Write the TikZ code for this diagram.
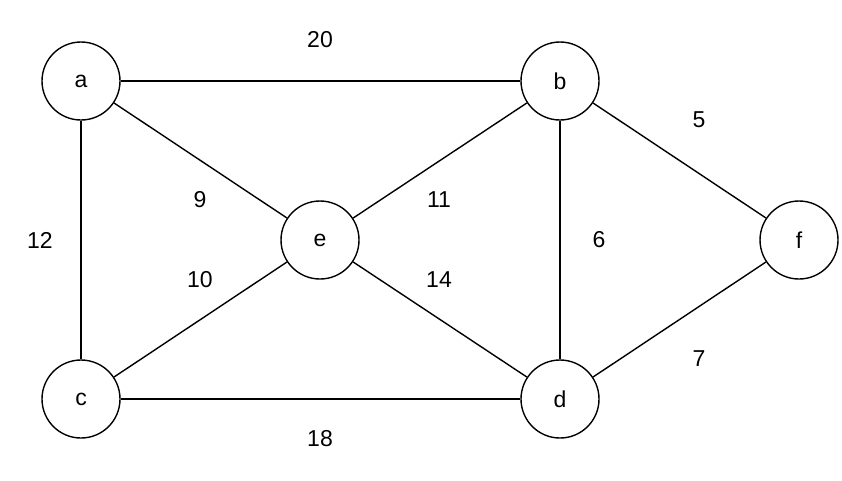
\documentclass[tikz,border=0pt]{standalone}
\usepackage{fontspec}
\setmainfont{Liberation Sans}
\begin{document}
\begin{tikzpicture}[x=1pt,y=-1pt,
  v/.style={circle,draw,line width=1.4pt,minimum size=78pt,inner sep=0pt,font=\fontsize{23}{26}\selectfont},
  w/.style={font=\fontsize{23}{26}\selectfont},
  e/.style={line width=1.4pt}]
\useasboundingbox (0,0) rectangle (842,480);
\node[v] (a) at (81,81) {a};
\node[v] (b) at (560,81) {b};
\node[v] (e) at (320,240) {e};
\node[v] (f) at (799,240) {f};
\node[v] (c) at (81,399) {c};
\node[v] (d) at (560,399) {d};
\draw[e] (a)--(b); \draw[e] (a)--(e); \draw[e] (a)--(c);
\draw[e] (b)--(e); \draw[e] (b)--(d); \draw[e] (b)--(f);
\draw[e] (e)--(c); \draw[e] (e)--(d); \draw[e] (c)--(d); \draw[e] (d)--(f);
\node[w] (l20) at (320,40) {20};
\node[w] (l5) at (699,120) {5};
\node[w] (l9) at (200,200) {9};
\node[w] (l11) at (439,200) {11};
\node[w] (l12) at (40,240) {12};
\node[w] (l6) at (599,240) {6};
\node[w] (l10) at (200,280) {10};
\node[w] (l14) at (439,280) {14};
\node[w] (l7) at (699,359) {7};
\node[w] (l18) at (320,439) {18};
\end{tikzpicture}
\end{document}
